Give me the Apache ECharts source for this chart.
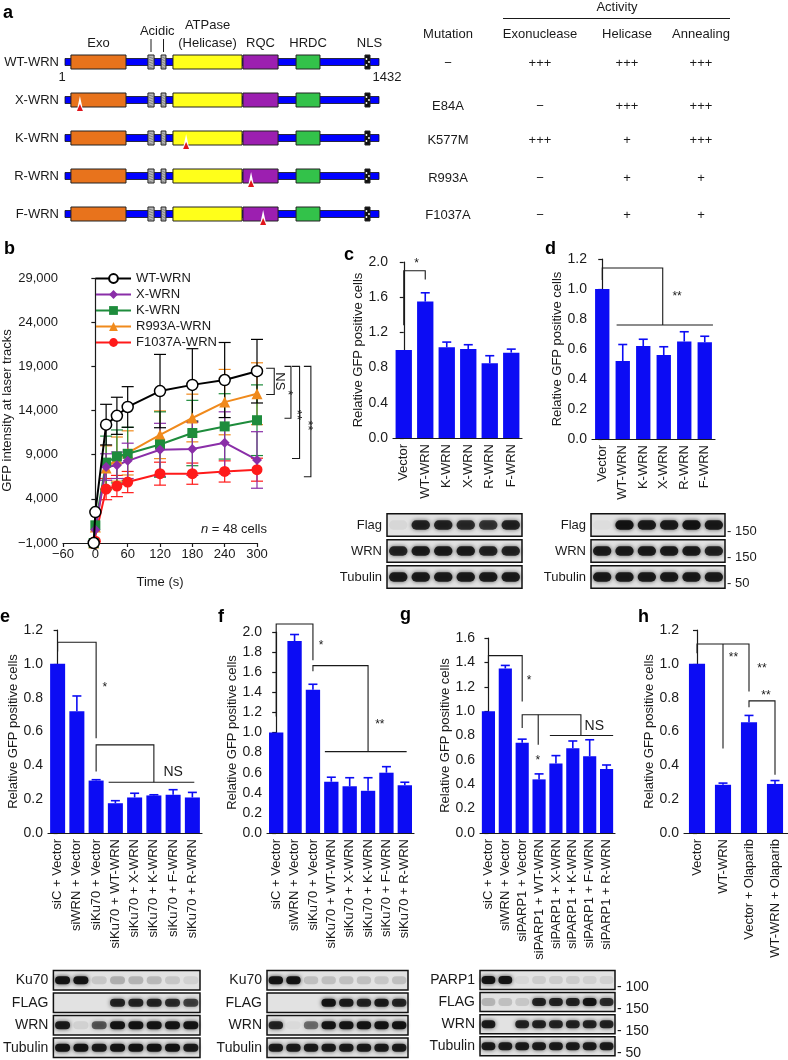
<!DOCTYPE html>
<html><head><meta charset="utf-8">
<script src="https://cdn.jsdelivr.net/npm/echarts@6/dist/echarts.min.js"></script>
<style>html,body{margin:0;padding:0;background:#fff}#c{width:788px;height:1060px}</style>
</head><body><div id="c"></div><script>
// ================= DATA =================
// Panel a: WRN constructs (domain extents in amino acids as drawn)
const constructs = ['WT-WRN','X-WRN','K-WRN','R-WRN','F-WRN'];
const proteinLength = 1432;
const domainNames = ['Exo','Acidic','Acidic','ATPase','RQC','HRDC','NLS'];
const domainStart = [28, 379, 439, 493, 812, 1054, 1368];
const domainEnd   = [279, 407, 461, 808, 972, 1163, 1391];
const mutationSite = [null, 69, 553, 849, 904];
const mutations = ['−','E84A','K577M','R993A','F1037A'];
const exoActivity = ['+++','−','+++','−','−'];
const helicaseActivity = ['+++','+++','+','+','+'];
const annealingActivity = ['+++','+++','+++','+','+'];

// Panel b: GFP intensity at laser tracks
const timePoints = [-3, 0, 20, 40, 60, 120, 180, 240, 300];
const bNames = ['WT-WRN','X-WRN','K-WRN','R993A-WRN','F1037A-WRN'];
const bWtMean = [-1000, 2500, 12400, 13400, 14400, 16200, 16900, 17450, 18450];
const bWtErr  = [0, 0, 2300, 2100, 2300, 4150, 4100, 4250, 3600];
const bXMean  = [-1000, 500, 7600, 7800, 8300, 9550, 9650, 10350, 8400];
const bXErr   = [0, 0, 1500, 1500, 2000, 3000, 3000, 3500, 3200];
const bKMean  = [-1000, 1000, 8100, 8800, 9100, 10150, 11450, 12200, 12900];
const bKErr   = [0, 0, 3000, 3000, 3000, 3700, 3700, 3700, 4000];
const bRMean  = [-1000, 800, 7500, 8500, 9200, 11250, 13150, 14950, 15900];
const bRErr   = [0, 0, 2500, 2500, 2500, 2700, 2700, 3700, 3500];
const bFMean  = [-1000, -800, 5100, 5450, 5900, 6850, 6850, 7100, 7300];
const bFErr   = [0, 0, 1200, 1200, 1200, 1300, 1200, 1200, 1300];

// Panels c-h: relative GFP positive cells
const cCats = ['Vector','WT-WRN','K-WRN','X-WRN','R-WRN','F-WRN'];
const cVals = [1.0, 1.55, 1.03, 1.01, 0.85, 0.97];
const cErr  = [0, 0.10, 0.06, 0.05, 0.085, 0.04];
const dCats = ['Vector','WT-WRN','K-WRN','X-WRN','R-WRN','F-WRN'];
const dVals = [1.0, 0.52, 0.62, 0.56, 0.65, 0.645];
const dErr  = [0, 0.11, 0.045, 0.055, 0.065, 0.04];
const eCats = ['siC + Vector','siWRN + Vector','siKu70 + Vector','siKu70 + WT-WRN','siKu70 + X-WRN','siKu70 + K-WRN','siKu70 + F-WRN','siKu70 + R-WRN'];
const eVals = [1.0, 0.72, 0.31, 0.176, 0.21, 0.222, 0.226, 0.21];
const eErr  = [0, 0.09, 0.005, 0.015, 0.025, 0.004, 0.03, 0.03];
const fCats = ['siC + Vector','siWRN + Vector','siKu70 + Vector','siKu70 + WT-WRN','siKu70 + X-WRN','siKu70 + K-WRN','siKu70 + F-WRN','siKu70 + R-WRN'];
const fVals = [1.0, 1.91, 1.425, 0.51, 0.465, 0.42, 0.6, 0.475];
const fErr  = [0, 0.065, 0.055, 0.045, 0.085, 0.13, 0.06, 0.03];
const gCats = ['siC + Vector','siWRN + Vector','siPARP1 + Vector','siPARP1 + WT-WRN','siPARP1 + X-WRN','siPARP1 + K-WRN','siPARP1 + F-WRN','siPARP1 + R-WRN'];
const gVals = [1.0, 1.35, 0.74, 0.44, 0.57, 0.695, 0.63, 0.525];
const gErr  = [0, 0.025, 0.03, 0.045, 0.065, 0.06, 0.135, 0.033];
const hCats = ['Vector','WT-WRN','Vector + Olaparib','WT-WRN + Olaparib'];
const hVals = [1.0, 0.285, 0.655, 0.29];
const hErr  = [0, 0.01, 0.04, 0.02];

// Significance brackets: polylines in [category index, value]; marks: [index, value, text]
const cBrackets = [[[0,1.28],[0,1.9],[1,1.9],[1,1.8]]];
const cMarks = [[0.6,1.98,'*']];
const dBrackets = [[[0,1.06],[0,1.14],[2.95,1.14],[2.95,0.76]], [[0.7,0.76],[5.4,0.76]]];
const dMarks = [[3.65,0.95,'**']];
const eBrackets = [[[0,1.073],[0,1.128],[2,1.128],[2,0.56]], [[2,0.363],[2,0.521],[5,0.521],[5,0.3]], [[2.65,0.3],[7.1,0.3]]];
const eMarks = [[2.45,0.86,'*'],[6,0.36,'NS']];
const fBrackets = [[[0,1.16],[0,2.08],[2,2.08],[2,1.72]], [[2,1.61],[2,1.665],[5,1.665],[5,0.81]], [[2.65,0.81],[7.1,0.81]]];
const fMarks = [[2.45,1.86,'*'],[5.64,1.08,'**']];
const gBrackets = [[[0,1.2],[0,1.455],[2,1.455],[2,1.08]], [[2,0.861],[2,0.97],[5.48,0.97],[5.48,0.8]], [[2.95,0.97],[2.95,0.725]], [[3.64,0.8],[7.39,0.8]]];
const gMarks = [[2.41,1.25,'*'],[2.93,0.594,'*'],[6.27,0.875,'NS']];
const hBrackets = [[[0,1.063],[0,1.117],[2,1.117],[2,0.836]], [[1,1.117],[1,0.5]], [[2,0.744],[2,0.781],[3,0.781],[3,0.344]]];
const hMarks = [[1.4,1.035,'**'],[2.5,0.974,'**'],[2.65,0.81,'**']];
// b significance brackets: [time, intensity]
const bBrackets = [[[317,18780],[332,18780],[332,15810],[317,15810]], [[351,19000],[363,19000],[363,13130],[351,13130]], [[365,19000],[379,19000],[379,8565],[365,8565]], [[387,19000],[400,19000],[400,6500],[387,6500]]];
const bMarks = [[342,17300,'NS'],[357,16000,'*'],[373,13500,'**'],[393,12300,'**']];

// Western blots: band intensity per row (rows) x lane
const cBlotRows = ['Flag','WRN','Tubulin'];
const cBlot = [[0.05,0.85,0.85,0.8,0.75,0.85],[0.85,0.9,0.9,0.9,0.85,0.85],[0.9,0.9,0.9,0.9,0.9,0.9]];
const dBlotRows = ['Flag','WRN','Tubulin'];
const dBlotMarkers = ['150','150','50'];
const dBlot = [[0.02,0.95,0.9,0.9,0.95,0.9],[0.9,0.9,0.9,0.9,0.9,0.85],[0.9,0.9,0.9,0.9,0.9,0.9]];
const eBlotRows = ['Ku70','FLAG','WRN','Tubulin'];
const eBlot = [[0.95,0.95,0.12,0.22,0.2,0.18,0.12,0.08],[0,0,0,0.85,0.85,0.85,0.8,0.7],[0.9,0.08,0.6,0.95,0.95,0.95,0.95,0.95],[0.95,0.95,0.9,0.95,0.95,0.95,0.95,0.9]];
const fBlotRows = ['Ku70','FLAG','WRN','Tubulin'];
const fBlot = [[0.95,0.95,0.15,0.15,0.15,0.15,0.12,0.15],[0,0,0,0.95,0.9,0.85,0.9,0.85],[0.85,0.03,0.5,0.95,0.95,0.95,0.95,0.95],[0.9,0.9,0.9,0.9,0.9,0.9,0.9,0.9]];
const gBlotRows = ['PARP1','FLAG','WRN','Tubulin'];
const gBlotMarkers = ['100','150','150','50'];
const gBlot = [[0.95,0.95,0.05,0.1,0.1,0.1,0.08,0.08],[0.2,0.15,0.12,0.85,0.85,0.85,0.95,0.8],[0.9,0,0.85,0.85,0.85,0.85,0.85,0.85],[0.9,0.9,0.9,0.9,0.9,0.9,0.9,0.9]];

// ================= STYLE / BUILD =================
const FONT = "'Liberation Sans', Arial, Helvetica, sans-serif";
const NARROW = "'Liberation Sans Narrow', 'Liberation Sans', Arial, sans-serif";
const INK = '#1a1a1a';
const BLUE = '#0c0cf4';
const domainColors = ['#e8731c','#b8b8b8','#b8b8b8','#ffff1a','#9c1fb0','#33c24a','#111111'];
const bColors = ['#000000','#8a2ea8','#1e8c3c','#f08a1c','#ff1a1a'];
const bSymbols = ['circle','diamond','rect','triangle','circle'];
const bSizes = [11, 10, 10, 11, 11];

const grids = [], xAxes = [], yAxes = [], series = [];
const addGrid = g => (grids.push(g), grids.length - 1);
const addX = a => (xAxes.push(a), xAxes.length - 1);
const addY = a => (yAxes.push(a), yAxes.length - 1);
const lineStyle = {color: INK, width: 1.2};

// ---- Panel a ----
(function(){
  const gi = addGrid({left: 65, top: 43, width: 314, height: 190});
  const xi = addX({type:'value', gridIndex: gi, min: 1, max: proteinLength, show: false});
  const yi = addY({type:'category', gridIndex: gi, data: constructs, inverse: true,
    axisLine:{show:false}, axisTick:{show:false},
    axisLabel:{fontSize:13, color: INK, fontFamily: FONT, margin: 6}});
  series.push({type:'custom', xAxisIndex: xi, yAxisIndex: yi, data: constructs.map((c,i)=>[1,i]),
    renderItem(params, api){
      const row = api.value(1);
      const s = api.coord([1,row]), e = api.coord([proteinLength,row]);
      const y = s[1];
      const ch = [];
      ch.push({type:'rect', shape:{x:s[0], y:y-3.5, width:e[0]-s[0], height:7}, style:{fill:'#0000ff', stroke:'#111', lineWidth:0.8}});
      domainNames.forEach((n,d)=>{
        const a = api.coord([domainStart[d],row]), b = api.coord([domainEnd[d],row]);
        ch.push({type:'rect', shape:{x:a[0], y:y-7, width:b[0]-a[0], height:14}, style:{fill:domainColors[d], stroke:'#222', lineWidth:1}});
        if (n === 'NLS') {
          [[-1,-3],[1.5,0],[-1,3]].forEach(o=>ch.push({type:'circle', shape:{cx:(a[0]+b[0])/2+o[0], cy:y+o[1], r:0.9}, style:{fill:'#fff'}}));
        }
        if (n === 'Acidic') {
          for (let k=-5;k<=5;k+=2.5) ch.push({type:'line', shape:{x1:a[0]+1, y1:y+k, x2:b[0]-1, y2:y+k+1.5}, style:{stroke:'#666', lineWidth:0.7}});
        }
      });
      if (mutationSite[row] != null) {
        const m = api.coord([mutationSite[row], row]);
        ch.push({type:'polygon', shape:{points:[[m[0]-3,y+10],[m[0],y-4],[m[0]+3,y+10]]}, style:{fill:'#fff'}});
        ch.push({type:'polygon', shape:{points:[[m[0]-3,y+11],[m[0],y+4],[m[0]+3,y+11]]}, style:{fill:'#e0151b'}});
      }
      if (row === 0) {
        const txt = (x, yy, t) => ch.push({type:'text', x, y: yy, style:{text:t, fill: INK, font:'13px '+FONT, textAlign:'center', textVerticalAlign:'middle', align:'center', verticalAlign:'middle'}});
        txt(s[0]-3, y+15, '1');
        txt(e[0]+8, y+15, String(proteinLength));
        const mid = d => (api.coord([domainStart[d],row])[0] + api.coord([domainEnd[d],row])[0]) / 2;
        txt(mid(0), y-19, 'Exo');
        txt((mid(1)+mid(2))/2, y-31, 'Acidic');
        [1,2].forEach(d => ch.push({type:'line', shape:{x1:mid(d), y1:y-23, x2:mid(d), y2:y-10}, style:{stroke:INK, lineWidth:1}}));
        txt(mid(3), y-37, 'ATPase');
        txt(mid(3), y-19, '(Helicase)');
        txt(mid(4), y-19, 'RQC');
        txt(mid(5), y-19, 'HRDC');
        txt(mid(6)+2, y-19, 'NLS');
      }
      return {type:'group', children: ch};
    }});
})();

// ---- Panel b ----
(function(){
  const gi = addGrid({left: 30, top: 278, width: 227, height: 265});
  const xi = addX({type:'value', gridIndex: gi, min: -60, max: 300, interval: 60,
    name:'Time (s)', nameLocation:'middle', nameGap: 33, nameTextStyle:{fontSize:13, color:INK, fontFamily:FONT},
    axisLine:{onZero:false, lineStyle}, axisTick:{length:4, lineStyle}, splitLine:{show:false},
    axisLabel:{fontSize:13, color:INK, fontFamily:FONT, margin:5, formatter: v => (v<0?'−':'') + Math.abs(v)}});
  const yi = addY({type:'value', gridIndex: gi, min: -1000, max: 29000, interval: 5000,
    name:'GFP intensity at laser tracks', nameLocation:'middle', nameGap: 46, nameTextStyle:{fontSize:13, color:INK, fontFamily:FONT},
    axisLine:{onZero:true, lineStyle}, axisTick:{length:4, lineStyle}, splitLine:{show:false},
    axisLabel:{fontSize:13, color:INK, fontFamily:FONT, margin:5, formatter: v => (v<0?'−':'') + Math.abs(v).toLocaleString('en-US')}});
  const means = [bWtMean, bXMean, bKMean, bRMean, bFMean];
  const errs = [bWtErr, bXErr, bKErr, bRErr, bFErr];
  for (let s = 4; s >= 0; s--) {
    series.push({type:'custom', xAxisIndex: xi, yAxisIndex: yi, z: 2,
      data: timePoints.map((t,i)=>[t, means[s][i], errs[s][i]]),
      renderItem(params, api){
        const t = api.value(0), v = api.value(1), e = api.value(2);
        if (!e) return {type:'group', children:[]};
        const lo = api.coord([t, v-e]), hi = api.coord([t, v+e]);
        const st = {stroke: bColors[s], lineWidth: 1.2};
        return {type:'group', children:[
          {type:'line', shape:{x1:lo[0], y1:lo[1], x2:hi[0], y2:hi[1]}, style: st},
          {type:'line', shape:{x1:hi[0]-6, y1:hi[1], x2:hi[0]+6, y2:hi[1]}, style: st},
          {type:'line', shape:{x1:lo[0]-6, y1:lo[1], x2:lo[0]+6, y2:lo[1]}, style: st}]};
      }});
  }
  for (let s = 4; s >= 0; s--) {
    series.push({type:'line', name: bNames[s], xAxisIndex: xi, yAxisIndex: yi, z: 3 + (s===0?1:0),
      data: timePoints.map((t,i)=>[t, means[s][i]]),
      symbol: bSymbols[s], symbolSize: bSizes[s], showAllSymbol: true,
      lineStyle:{color: bColors[s], width: 2},
      itemStyle: s===0 ? {color:'#fff', borderColor:'#000', borderWidth:1.5} : {color: bColors[s], borderWidth:0}});
  }
  series.push({type:'custom', xAxisIndex: xi, yAxisIndex: yi, z: 5, clip: false,
    data: bBrackets.map(b=>b[0]).concat(bMarks.map(m=>[m[0],m[1]])),
    renderItem(params, api){
      const i = params.dataIndex;
      if (i < bBrackets.length) return {type:'polyline', shape:{points: bBrackets[i].map(p=>api.coord(p))}, style:{stroke:INK, fill:'none', lineWidth:1.1}};
      const m = bMarks[i - bBrackets.length], p = api.coord([m[0], m[1]]);
      return {type:'text', x:p[0], y:p[1], rotation:-Math.PI/2, style:{text:m[2], fill:INK, font:'13px '+FONT, textAlign:'center', textVerticalAlign:'middle', align:'center', verticalAlign:'middle'}};
    }});
})();

// ---- Bar panels ----
function barPanel(rect, cats, vals, errs, yMax, yInt, brackets, marks, gap, nameGap){
  const gi = addGrid(rect);
  const xi = addX({type:'category', gridIndex: gi, data: cats,
    axisLine:{lineStyle}, axisTick:{length:4, lineStyle},
    axisLabel:{rotate:90, interval:0, fontSize:13, color:INK, fontFamily:FONT, margin:6}});
  const xv = addX({type:'value', gridIndex: gi, min:-0.5, max:cats.length-0.5, show:false});
  const yi = addY({type:'value', gridIndex: gi, min:0, max:yMax, interval:yInt,
    name:'Relative GFP positive cells', nameLocation:'middle', nameGap: nameGap,
    nameTextStyle:{fontSize:13, color:INK, fontFamily:FONT},
    axisLine:{show:true, lineStyle}, axisTick:{show:true, length:4, lineStyle}, splitLine:{show:false},
    axisLabel:{fontSize:14, color:INK, fontFamily:FONT, margin:5, formatter: v => v.toFixed(1)}});
  series.push({type:'bar', xAxisIndex: xi, yAxisIndex: yi, data: vals, barCategoryGap: gap, itemStyle:{color: BLUE}});
  series.push({type:'custom', xAxisIndex: xi, yAxisIndex: yi, z: 3,
    data: vals.map((v,i)=>[i, v, errs[i]]),
    renderItem(params, api){
      const i = api.value(0), v = api.value(1), e = api.value(2);
      if (!e) return {type:'group', children:[]};
      const p0 = api.coord([i, v]), p1 = api.coord([i, v+e]);
      const st = {stroke: BLUE, lineWidth: 1.6};
      return {type:'group', children:[
        {type:'line', shape:{x1:p0[0], y1:p0[1], x2:p1[0], y2:p1[1]}, style: st},
        {type:'line', shape:{x1:p1[0]-4.5, y1:p1[1], x2:p1[0]+4.5, y2:p1[1]}, style: st}]};
    }});
  series.push({type:'custom', xAxisIndex: xv, yAxisIndex: yi, z: 4, clip: false,
    data: brackets.map(b=>b[0]).concat(marks.map(m=>[m[0],m[1]])),
    renderItem(params, api){
      const i = params.dataIndex;
      if (i < brackets.length) return {type:'polyline', shape:{points: brackets[i].map(p=>api.coord(p))}, style:{stroke:INK, fill:'none', lineWidth:1.1}};
      const m = marks[i - brackets.length], p = api.coord([m[0], m[1]]);
      return {type:'text', x:p[0], y:p[1], style:{text:m[2], fill:INK, font:(m[2]==='NS'?'14px ':'12px ')+FONT, textAlign:'center', textVerticalAlign:'middle', align:'center', verticalAlign:'middle'}};
    }});
}
barPanel({left:393, top:262, width:129, height:176}, cCats, cVals, cErr, 2.0, 0.4, cBrackets, cMarks, '24%', 28);
barPanel({left:592, top:259, width:123, height:180}, dCats, dVals, dErr, 1.2, 0.2, dBrackets, dMarks, '30%', 28);
barPanel({left:48, top:630, width:154, height:203}, eCats, eVals, eErr, 1.2, 0.2, eBrackets, eMarks, '22%', 28);
barPanel({left:267, top:632, width:147, height:201}, fCats, fVals, fErr, 2.0, 0.2, fBrackets, fMarks, '22%', 28);
barPanel({left:480, top:638, width:135, height:195}, gCats, gVals, gErr, 1.6, 0.2, gBrackets, gMarks, '22%', 28);
barPanel({left:684, top:630, width:104, height:203}, hCats, hVals, hErr, 1.2, 0.2, hBrackets, hMarks, '38%', 28);

// ---- Blots ----
function blotPanel(rect, rows, lanes, markers, font, fs){
  const gi = addGrid(rect);
  const xi = addX({type:'category', gridIndex: gi, data: lanes[0].map((_,i)=>i), show:false});
  const yi = addY({type:'category', gridIndex: gi, data: rows, inverse: true,
    axisLine:{show:false}, axisTick:{show:false},
    axisLabel:{fontSize: fs, color:INK, fontFamily: font, margin: 5}});
  if (markers) {
    addY({type:'category', gridIndex: gi, data: rows, inverse: true, position:'right',
      axisLine:{show:false}, axisTick:{show:false},
      axisLabel:{fontSize: fs, color:INK, fontFamily: font, margin: 2, verticalAlign:'top',
        formatter: (v, i) => '- ' + markers[i]}});
  }
  series.push({type:'custom', xAxisIndex: xi, yAxisIndex: yi, z: 2,
    data: rows.map((r,i)=>[0,i]),
    renderItem(params, api){
      const c = api.coord([0, api.value(1)]);
      const h = api.size([0,1])[1] * 0.86;
      const cs = params.coordSys;
      return {type:'rect', shape:{x: cs.x, y: c[1]-h/2, width: cs.width, height: h},
        style:{fill:'#e2e2e2', stroke:'#111', lineWidth:1.5}};
    }});
  const bands = [];
  lanes.forEach((row, r) => row.forEach((v, l) => bands.push([l, r, v])));
  series.push({type:'custom', xAxisIndex: xi, yAxisIndex: yi, z: 3, data: bands,
    renderItem(params, api){
      const v = api.value(2);
      if (v <= 0.01) return {type:'group', children:[]};
      const c = api.coord([api.value(0), api.value(1)]);
      const w = api.size([1,0])[0] * 0.82, h = api.size([0,1])[1] * 0.36;
      return {type:'rect', shape:{x:c[0]-w/2, y:c[1]-h/2, width:w, height:h, r: h/2},
        style:{fill:'rgba(15,15,15,'+v+')', shadowBlur: 4, shadowColor:'rgba(0,0,0,'+(v*0.8)+')'}};
    }});
}
blotPanel({left:387, top:512, width:135, height:78}, cBlotRows, cBlot, null, FONT, 13);
blotPanel({left:591, top:512, width:134, height:78}, dBlotRows, dBlot, dBlotMarkers, FONT, 13);
blotPanel({left:50, top:969, width:150, height:90}, eBlotRows, eBlot, null, NARROW, 14);
blotPanel({left:267, top:969, width:141, height:90}, fBlotRows, fBlot, null, NARROW, 14);
blotPanel({left:480, top:969, width:135, height:90}, gBlotRows, gBlot, gBlotMarkers, NARROW, 14);

// ---- Text graphics ----
const graphic = [];
const letter = (t, x, y) => graphic.push({type:'text', left: x, top: y, style:{text:t, font:'bold 18px '+FONT, fill:'#000'}});
letter('a', 3, 4); letter('b', 4, 240); letter('c', 344, 246); letter('d', 545, 240);
letter('e', 0, 608); letter('f', 218, 608); letter('g', 400, 606); letter('h', 638, 608);
const tt = (t, x, y) => graphic.push({type:'text', x, y, style:{text:t, fill:INK, font:'13px '+FONT, textAlign:'center', textVerticalAlign:'middle', align:'center', verticalAlign:'middle'}});
tt('Activity', 617, 7);
graphic.push({type:'line', shape:{x1:503, y1:18.5, x2:730, y2:18.5}, style:{stroke:INK, lineWidth:1.2}});
tt('Mutation', 448, 34); tt('Exonuclease', 540, 34); tt('Helicase', 627, 34); tt('Annealing', 701, 34);
const tableRowY = [63, 106, 140, 178, 215];
mutations.forEach((m,i)=>{
  tt(m, 448, tableRowY[i]); tt(exoActivity[i], 540, tableRowY[i]);
  tt(helicaseActivity[i], 627, tableRowY[i]); tt(annealingActivity[i], 701, tableRowY[i]);
});
graphic.push({type:'text', x: 267, y: 529, style:{text:'{i|n} = 48 cells', fill:INK, font:'13px '+FONT, textAlign:'right', textVerticalAlign:'middle', align:'right', verticalAlign:'middle', rich:{i:{fontStyle:'italic', fontSize:13, fontFamily:FONT, fill:INK}}}});

const option = {
  animation: false, backgroundColor:'#fff', textStyle:{fontFamily: FONT},
  grid: grids, xAxis: xAxes, yAxis: yAxes, series, graphic,
  legend: {data: bNames, orient:'vertical', left: 90, top: 267, itemWidth: 35, itemHeight: 11, itemGap: 3,
    textStyle:{fontSize:13, color:INK, fontFamily:FONT}, selectedMode:false}
};
const chart = echarts.init(document.getElementById('c'), null, {renderer:'canvas'});
chart.setOption(option);
</script></body></html>
